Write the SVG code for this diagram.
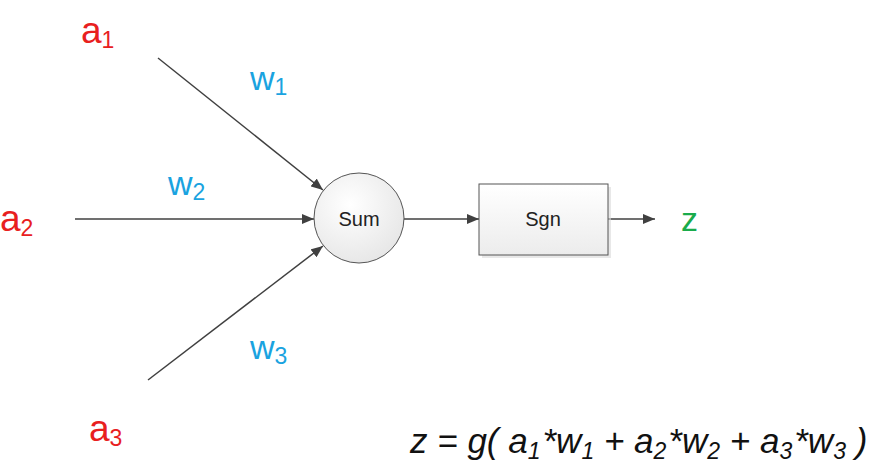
<svg xmlns="http://www.w3.org/2000/svg" width="879" height="469" viewBox="0 0 879 469">
<defs>
<marker id="arr" viewBox="0 0 12 10" refX="12" refY="5" markerWidth="12" markerHeight="10" markerUnits="userSpaceOnUse" orient="auto">
<path d="M0,0 L12,5 L0,10 z" fill="#404040"/>
</marker>
<radialGradient id="cg" cx="0.4" cy="0.35" r="0.7">
<stop offset="0" stop-color="#ffffff"/>
<stop offset="1" stop-color="#e6e6e6"/>
</radialGradient>
<linearGradient id="rg" x1="0" y1="0" x2="0" y2="1">
<stop offset="0" stop-color="#ffffff"/>
<stop offset="1" stop-color="#ececec"/>
</linearGradient>
</defs>
<style>
.ln{stroke:#404040;stroke-width:1.5;fill:none;marker-end:url(#arr)}
.t{font-family:"Liberation Sans",Arial,sans-serif}
.a{fill:#e8201e;font-size:37px}
.w{fill:#1aa3e0;font-size:34px}
.s{font-size:23px}
.n{font-size:20px;fill:#222}
.f{font-size:35px;font-style:italic;fill:#111}
.fs{font-size:23px}
</style>
<rect width="879" height="469" fill="#fff"/>
<g id="connectors">
<line class="ln" x1="158" y1="58" x2="323" y2="190"/>
<line class="ln" x1="75" y1="219" x2="314" y2="219"/>
<line class="ln" x1="148" y1="380" x2="323" y2="246"/>
<line class="ln" x1="404" y1="219" x2="479" y2="219"/>
<line class="ln" x1="608" y1="219" x2="655" y2="219"/>
</g>
<g id="sum">
<circle cx="359" cy="218" r="45" fill="url(#cg)" stroke="#555" stroke-width="1"/>
<text class="t n" x="359" y="226" text-anchor="middle">Sum</text>
</g>
<g id="sgn">
<rect x="482" y="187" width="129" height="71" fill="#d8d8d8" opacity="0.6"/>
<rect x="479" y="184" width="129" height="71" fill="url(#rg)" stroke="#555" stroke-width="1"/>
<text class="t n" x="543" y="226" text-anchor="middle">Sgn</text>
</g>
<g id="a1"><text class="t a" x="81" y="43">a<tspan class="s" dy="5">1</tspan></text></g>
<g id="a2"><text class="t a" x="0" y="231">a<tspan class="s" dy="5">2</tspan></text></g>
<g id="a3"><text class="t a" x="89" y="441">a<tspan class="s" dy="5">3</tspan></text></g>
<g id="w1"><text class="t w" x="250" y="90">w<tspan class="s" dy="5">1</tspan></text></g>
<g id="w2"><text class="t w" x="168" y="195">w<tspan class="s" dy="5">2</tspan></text></g>
<g id="w3"><text class="t w" x="250" y="359">w<tspan class="s" dy="5">3</tspan></text></g>
<g id="z"><text class="t" x="681" y="231" font-size="34" fill="#1aab4b">z</text></g>
<g id="formula">
<text class="t f" x="410" y="453">z = g( a<tspan class="fs" dy="6">1</tspan><tspan dx="2" dy="-6">*w</tspan><tspan class="fs" dy="6">1</tspan><tspan dy="-6"> + a</tspan><tspan class="fs" dy="6">2</tspan><tspan dx="2" dy="-6">*w</tspan><tspan class="fs" dy="6">2</tspan><tspan dy="-6"> + a</tspan><tspan class="fs" dy="6">3</tspan><tspan dx="2" dy="-6">*w</tspan><tspan class="fs" dy="6">3</tspan><tspan dy="-6"> )</tspan></text>
</g>
</svg>
